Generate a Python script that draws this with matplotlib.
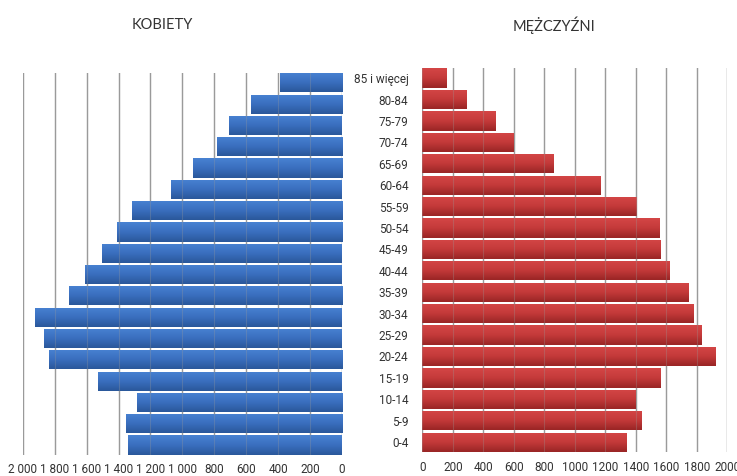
import numpy as np
import matplotlib.pyplot as plt
from matplotlib.colors import LinearSegmentedColormap
from matplotlib.ticker import FuncFormatter

age_groups = ["0-4", "5-9", "10-14", "15-19", "20-24", "25-29", "30-34", "35-39",
              "40-44", "45-49", "50-54", "55-59", "60-64", "65-69", "70-74",
              "75-79", "80-84", "85 i więcej"]
women = [1340, 1354, 1287, 1528, 1839, 1866, 1921, 1712, 1609, 1503,
         1413, 1319, 1070, 936, 786, 706, 572, 390]
men = [1341, 1439, 1402, 1566, 1926, 1834, 1777, 1744, 1623, 1566,
       1557, 1409, 1172, 865, 600, 484, 294, 160]
ticks = list(range(0, 2001, 200))

plt.rcParams["font.family"] = ["Roboto", "DejaVu Sans"]
text_color = "#333333"
grid_color = "#9a9a9a"


def thousands(v, pos):
    v = int(round(v))
    if v >= 1000:
        return f"{v // 1000} {v % 1000:03d}"
    return str(v)


def shade_bars(ax, bars, colors):
    # vertical gradient in every bar, like the office-style bars
    cmap = LinearSegmentedColormap.from_list("shade", colors)
    grad = np.linspace(0, 1, 64).reshape(-1, 1)
    for b in bars:
        x0, y0 = b.get_xy()
        w, h = b.get_width(), b.get_height()
        im = ax.imshow(grad, cmap=cmap, origin="lower", aspect="auto",
                       extent=[x0, x0 + w, y0, y0 + h], zorder=2,
                       interpolation="bicubic")
        im.set_clip_path(b)


def style_axis(ax):
    for s in ax.spines.values():
        s.set_visible(False)
    ax.set_xlim(0, 2000)
    ax.set_ylim(-0.47, len(age_groups) - 0.53)
    ax.set_xticks(ticks)
    ax.tick_params(axis="x", length=0, pad=6, labelsize=8.5, colors=text_color)
    for t in ticks:
        ax.axvline(t, color=grid_color, lw=1, zorder=0)
        ax.axvline(t, color=grid_color, lw=0.8, alpha=0.3, zorder=3)


fig = plt.figure(figsize=(7.37, 4.76), dpi=100)
ax_w = fig.add_axes([0.031, 0.044, 0.433, 0.803])
ax_m = fig.add_axes([0.573, 0.050, 0.414, 0.807])

y = np.arange(len(age_groups))

bars_w = ax_w.barh(y, women, height=0.9, color="#3a6fbf", zorder=1)
style_axis(ax_w)
ax_w.set_xlim(2000, 0)
ax_w.set_yticks([])
ax_w.xaxis.set_major_formatter(FuncFormatter(thousands))
shade_bars(ax_w, bars_w, ["#2a579a", "#3a6fbf", "#4882d2"])

bars_m = ax_m.barh(y, men, height=0.9, color="#c43a3a", zorder=1)
style_axis(ax_m)
ax_m.set_yticks(y)
ax_m.set_yticklabels(age_groups)
ax_m.tick_params(axis="y", length=0, pad=10, labelsize=8.5, colors=text_color)
shade_bars(ax_m, bars_m, ["#992525", "#c43a3a", "#d44646"])

fig.text(0.22, 0.947, "KOBIETY", ha="center", va="center",
         fontsize=10.5, color=text_color, family=["Lato", "DejaVu Sans"])
fig.text(0.752, 0.947, "MĘŻCZYŹNI", ha="center", va="center",
         fontsize=10.5, color=text_color, family=["Lato", "DejaVu Sans"])

fig.savefig("out.png", dpi=100)
